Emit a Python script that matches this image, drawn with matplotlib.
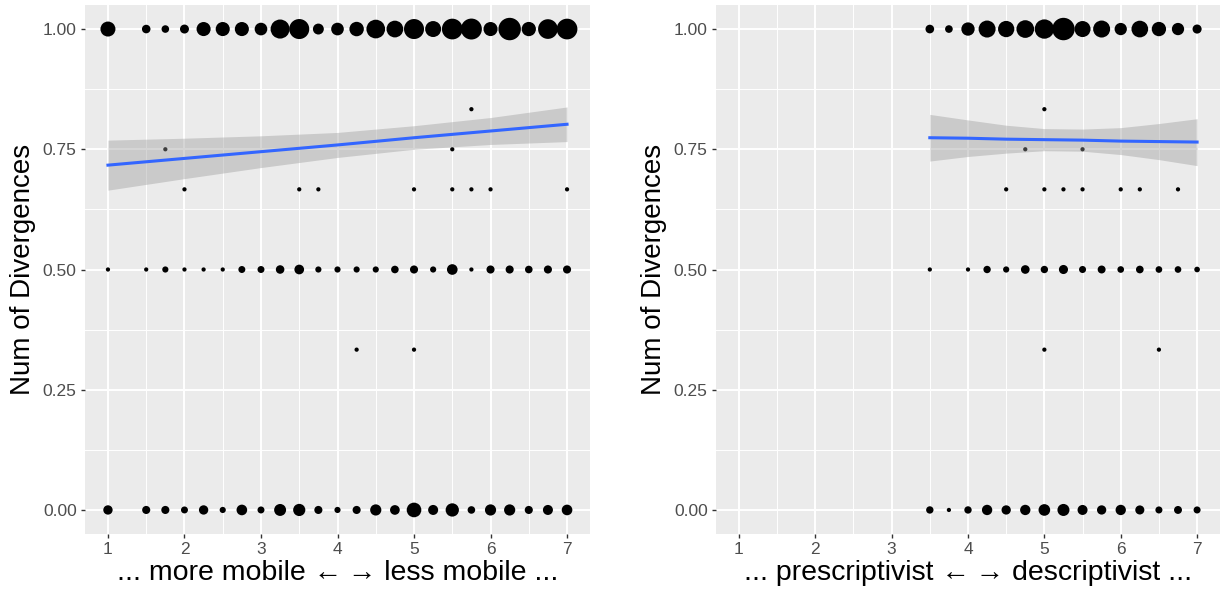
import numpy as np
import matplotlib
matplotlib.use("Agg")
import matplotlib.pyplot as plt
from matplotlib.ticker import MultipleLocator, FormatStrFormatter

plt.rcParams['font.family'] = ['Liberation Sans', 'DejaVu Sans']

# ── Data: counts of observations per (score, proportion) cell ────────────────
left_x = [1, 1.5, 1.75, 2, 2.25, 2.5, 2.75, 3, 3.25, 3.5, 3.75, 4,
          4.25, 4.5, 4.75, 5, 5.25, 5.5, 5.75, 6, 6.25, 6.5, 6.75, 7]
left_one  = [32, 6, 4, 7, 27, 27, 27, 20, 60, 68, 13, 20,
             29, 57, 43, 68, 38, 74, 76, 27, 90, 28, 65, 74]
left_half = [1, 1, 2, 1, 1, 1, 3, 3, 6, 9, 2, 2,
             2, 2, 4, 5, 2, 12, 1, 5, 5, 4, 5, 5]
left_zero = [8, 5, 5, 3, 8, 2, 12, 3, 17, 18, 5, 2,
             5, 14, 9, 30, 10, 23, 4, 14, 14, 5, 10, 12]
# single observations at other proportions
left_single_x = [1.75, 5.5, 5.75, 2, 3.5, 3.75, 5, 5.5, 5.75, 6, 7, 4.25, 5]
left_single_y = [3/4, 3/4, 5/6, 2/3, 2/3, 2/3, 2/3, 2/3, 2/3, 2/3, 2/3, 1/3, 1/3]

right_x = [3.5, 3.75, 4, 4.25, 4.5, 4.75, 5, 5.25, 5.5, 5.75, 6, 6.25, 6.5, 6.75, 7]
right_one  = [11, 7, 43, 84, 75, 93, 117, 170, 72, 84, 34, 80, 53, 34, 13]
right_half = [1, 0, 1, 6, 3, 11, 6, 13, 5, 8, 4, 7, 4, 4, 2]
right_zero = [6, 1, 6, 20, 14, 20, 29, 32, 18, 14, 20, 13, 5, 8, 5]
right_single_x = [4.75, 5.5, 5, 4.5, 5, 5.25, 5.5, 6, 6.25, 6.75, 5, 6.5]
right_single_y = [3/4, 3/4, 5/6, 2/3, 2/3, 2/3, 2/3, 2/3, 2/3, 2/3, 1/3, 1/3]

# linear fit (geom_smooth, method = "lm") with 95% band
left_fit_x  = [1, 2, 3, 4, 5, 6, 7]
left_fit_y  = [0.717, 0.731, 0.745, 0.759, 0.774, 0.788, 0.802]
left_fit_lo = [0.665, 0.689, 0.712, 0.733, 0.750, 0.760, 0.766]
left_fit_hi = [0.769, 0.773, 0.778, 0.785, 0.799, 0.816, 0.838]

right_fit_x  = [3.5, 4, 4.5, 5, 5.5, 6, 6.5, 7]
right_fit_y  = [0.774, 0.773, 0.771, 0.770, 0.769, 0.767, 0.766, 0.765]
right_fit_lo = [0.7255, 0.735, 0.742, 0.747, 0.746, 0.739, 0.7285, 0.716]
right_fit_hi = [0.8225, 0.811, 0.800, 0.793, 0.792, 0.795, 0.8035, 0.8135]

x_titles = ["... more mobile \u2190\u2009\u2192 less mobile ...",
            "... prescriptivist \u2190\u2009\u2192 descriptivist ..."]
y_title = "Num of Divergences"


def cells(xs, one, half, zero, sx, sy):
    x, y, n = [], [], []
    for row_y, row in [(1.0, one), (0.5, half), (0.0, zero)]:
        for xi, ni in zip(xs, row):
            if ni > 0:
                x.append(xi); y.append(row_y); n.append(ni)
    for xi, yi in zip(sx, sy):
        x.append(xi); y.append(yi); n.append(1)
    return np.array(x, float), np.array(y, float), np.array(n, float)


def point_area(n):
    # ggplot scale_size: size = 1 + 5*sqrt(rescaled count); diameter in px
    frac = (n - n.min()) / (n.max() - n.min())
    size = 1 + 5 * np.sqrt(frac)
    d_px = 0.6 + 3.64 * size
    return (d_px * 72 / 100) ** 2


def style_axes(ax):
    ax.set_facecolor("#EBEBEB")
    for sp in ax.spines.values():
        sp.set_visible(False)
    ax.set_xlim(0.7, 7.3)
    ax.set_ylim(-0.05, 1.05)
    ax.xaxis.set_major_locator(MultipleLocator(1))
    ax.xaxis.set_minor_locator(MultipleLocator(0.5))
    ax.yaxis.set_major_locator(MultipleLocator(0.25))
    ax.yaxis.set_minor_locator(MultipleLocator(0.125))
    ax.yaxis.set_major_formatter(FormatStrFormatter("%.2f"))
    ax.grid(which="major", color="white", lw=1.4)
    ax.grid(which="minor", color="white", lw=0.7)
    ax.set_axisbelow(True)
    ax.tick_params(which="major", length=3, width=1.0, color="#333333",
                   labelcolor="#4D4D4D", labelsize=12.5, pad=3)
    ax.tick_params(which="minor", length=0)


fig = plt.figure(figsize=(12.22, 5.92), dpi=100)
rects = [[85 / 1222, 58 / 592, 505 / 1222, 529 / 592],
         [716 / 1222, 58 / 592, 504 / 1222, 529 / 592]]
panels = [(left_x, left_one, left_half, left_zero, left_single_x, left_single_y),
          (right_x, right_one, right_half, right_zero, right_single_x, right_single_y)]
fits = [(left_fit_x, left_fit_y, left_fit_lo, left_fit_hi),
        (right_fit_x, right_fit_y, right_fit_lo, right_fit_hi)]

for rect, pdata, (fx, fy, flo, fhi), xt in zip(rects, panels, fits, x_titles):
    ax = fig.add_axes(rect)
    style_axes(ax)
    x, y, n = cells(*pdata)
    ax.scatter(x, y, s=point_area(n), color="black", linewidths=0, zorder=2)
    ax.fill_between(fx, flo, fhi, color="#999999", alpha=0.4, linewidth=0, zorder=3)
    ax.plot(fx, fy, color="#3366FF", lw=2.2, zorder=4)
    ax.set_xlabel(xt, fontsize=20.5, labelpad=2)
    ax.set_ylabel(y_title, fontsize=20, labelpad=5)

fig.savefig("out.png", dpi=100)
